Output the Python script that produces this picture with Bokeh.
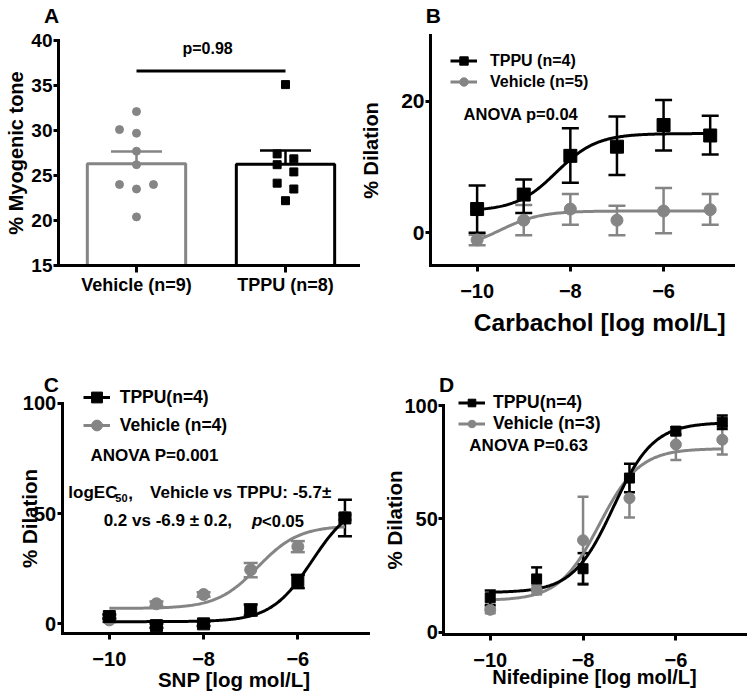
import numpy as np
from bokeh.plotting import figure
from bokeh.models import (Range1d, FixedTicker, Whisker, TeeHead, ColumnDataSource,
                          Label, Legend, LegendItem)
from bokeh.layouts import row, column
from bokeh.embed import file_html
from bokeh.resources import INLINE

FONT = "Liberation Sans"
BLACK = "#000000"
GRAY = "#858585"

# ---------------- Panel A data ----------------
a_groups = ["Vehicle (n=9)", "TPPU (n=8)"]
a_vehicle = [32.1, 30.1, 29.7, 27.7, 26.2, 24.0, 23.5, 24.0, 20.4]
a_tppu = [35.1, 27.4, 26.85, 26.2, 25.4, 24.15, 23.5, 22.2]
a_mean = [26.3, 26.25]
a_upper = [27.67, 27.78]
a_lower = [25.19, 24.92]
a_pvalue = "p=0.98"
a_sig_y = 36.6
a_yticks = [15, 20, 25, 30, 35, 40]
# scatter layout (column of each dot: -1 left, 0 centre, 1 right)
a_vehicle_col = [0, -1, 0, 0, 0, -1, 0, 1, 0]
a_tppu_col = [0, -1, 1, -1, 1, -1, 1, 0]

# ---------------- Panel B data (Carbachol) ----------------
dose = [-10, -9, -8, -7, -6, -5]
b_tppu = [3.6, 5.8, 11.7, 13.1, 16.4, 14.8]
b_tppu_up = [7.2, 8.1, 15.9, 17.7, 20.2, 17.8]
b_tppu_lo = [0.0, 3.0, 7.6, 8.8, 12.5, 11.9]
b_veh = [-1.1, 1.9, 3.6, 1.9, 3.3, 3.5]
b_veh_up = [-0.3, 4.2, 5.9, 4.1, 6.8, 5.9]
b_veh_lo = [-1.9, -0.4, 1.2, -0.4, -0.1, 1.2]
# 4-parameter fit: bottom, top, logEC50, hill
b_tppu_fit = [3.3, 15.1, -8.3, 1.0]
b_veh_fit = [-2.5, 3.3, -9.5, 1.0]

# ---------------- Panel C data (SNP) ----------------
c_tppu = [3.3, -0.8, 0.0, 6.3, 19.6, 48.0]
c_tppu_up = [4.3, 0.2, 1.0, 8.8, 22.2, 56.2]
c_tppu_lo = [2.3, -1.8, -1.0, 3.8, 16.2, 39.7]
c_veh = [1.8, 9.1, 13.3, 24.5, 35.0, 48.3]
c_veh_up = [2.8, 10.1, 14.3, 27.6, 37.5, 49.5]
c_veh_lo = [0.8, 8.1, 12.3, 21.1, 32.5, 47.1]
c_tppu_fit = [1.0, 56.0, -5.7, 1.0]
c_veh_fit = [7.0, 44.5, -6.85, 1.0]

# ---------------- Panel D data (Nifedipine) ----------------
d_tppu = [15.2, 23.5, 28.0, 68.0, 88.7, 92.6]
d_tppu_up = [18.4, 28.6, 34.9, 74.3, 90.4, 95.6]
d_tppu_lo = [12.0, 18.4, 21.1, 61.7, 87.0, 89.6]
d_veh = [9.9, 18.7, 40.6, 59.1, 82.8, 84.9]
d_veh_up = [11.4, 20.7, 59.7, 67.6, 87.5, 90.7]
d_veh_lo = [8.4, 16.7, 21.5, 50.6, 76.0, 78.4]
d_tppu_fit = [17.5, 92.5, -7.35, 1.0]
d_veh_fit = [14.0, 81.0, -7.65, 1.0]

dose_ticks = [-10, -8, -6]


def fit_curve(params):
    bottom, top, ec, hill = params
    xs = np.linspace(min(dose), max(dose), 200)
    ys = bottom + (top - bottom) / (1 + 10 ** ((ec - xs) * hill))
    return xs, ys


def make_fig(W, H, box, xr, yr, yticks, xticks):
    """Frame covers the whole figure; axes are pinned at the data box edges."""
    L, R, T, B = box
    sx = (xr[1] - xr[0]) / (R - L)
    sy = (yr[1] - yr[0]) / (B - T)
    p = figure(width=W, height=H,
               x_range=Range1d(xr[0] - L * sx, xr[1] + (W - R) * sx),
               y_range=Range1d(yr[0] - (H - B) * sy, yr[1] + T * sy),
               min_border=0, min_border_left=0, min_border_right=0,
               min_border_top=0, min_border_bottom=0,
               output_backend="svg", toolbar_location=None)
    p.title.visible = False
    p.outline_line_color = None
    p.xgrid.visible = False
    p.ygrid.visible = False
    p.background_fill_color = "white"
    p.border_fill_color = "white"
    p.xaxis.fixed_location = yr[0]
    p.yaxis.fixed_location = xr[0]
    p.xaxis.bounds = tuple(xr)
    p.yaxis.bounds = tuple(yr)
    p.xaxis.ticker = FixedTicker(ticks=xticks)
    p.yaxis.ticker = FixedTicker(ticks=yticks)
    for ax in p.axis:
        ax.axis_line_width = 3
        ax.axis_line_color = BLACK
        ax.axis_line_cap = "square"
        ax.major_tick_line_width = 3
        ax.major_tick_line_color = BLACK
        ax.major_tick_out = 6
        ax.major_tick_in = 0
        ax.minor_tick_line_color = None
        ax.major_label_text_font = FONT
        ax.major_label_text_font_style = "bold"
        ax.major_label_text_color = BLACK
        ax.axis_label_text_font = FONT
        ax.axis_label_text_font_style = "bold"
        ax.axis_label_text_color = BLACK
    p.yaxis.major_tick_out = 5
    p.yaxis.major_label_standoff = 1
    return p


def add_label(p, x, y, text, size, align="left", style="bold", x_offset=0, y_offset=0):
    p.add_layout(Label(x=x, y=y, text=text, text_font=FONT, text_font_style=style,
                       text_font_size=size, text_color=BLACK, text_align=align,
                       text_baseline="middle", x_offset=x_offset, y_offset=y_offset))


def add_whisker(p, xs, up, lo, color, cap, lw=2.5):
    src = ColumnDataSource(dict(x=xs, up=up, lo=lo))
    w = Whisker(source=src, base="x", upper="up", lower="lo", dimension="height",
                line_color=color, line_width=lw,
                upper_head=TeeHead(size=cap, line_color=color, line_width=lw),
                lower_head=TeeHead(size=cap, line_color=color, line_width=lw))
    p.add_layout(w)


def add_series(p, tppu, tup, tlo, veh, vup, vlo, tfit, vfit, sq, ci, cap):
    add_whisker(p, dose, vup, vlo, GRAY, cap)
    add_whisker(p, dose, tup, tlo, BLACK, cap)
    vx, vy = fit_curve(vfit)
    tx, ty = fit_curve(tfit)
    vl = p.line(vx, vy, line_color=GRAY, line_width=3)
    tl = p.line(tx, ty, line_color=BLACK, line_width=3)
    vs = p.scatter(dose, veh, marker="circle", size=ci, fill_color=GRAY, line_color=GRAY)
    ts = p.scatter(dose, tppu, marker="square", size=sq, fill_color=BLACK, line_color=BLACK)
    return (tl, ts), (vl, vs)


def add_legend(p, items, loc, gw, rh, standoff, size):
    leg = Legend(items=[LegendItem(label=lab, renderers=list(r)) for lab, r in items],
                 location=loc, orientation="vertical", padding=0, spacing=0, margin=0,
                 border_line_color=None, background_fill_alpha=0,
                 glyph_width=gw, glyph_height=rh, label_height=rh, label_standoff=standoff,
                 label_text_font=FONT, label_text_font_style="bold",
                 label_text_font_size=size, label_text_color=BLACK)
    p.add_layout(leg)


# ================= Panel A =================
pa = make_fig(360, 338, (58, 358, 40, 265), (-0.5235, 1.49), (15, 40),
              a_yticks, list(range(len(a_groups))))
pa.xaxis.major_label_overrides = {i: g for i, g in enumerate(a_groups)}
pa.xaxis.major_label_text_font_size = "18px"
pa.xaxis.major_label_standoff = 2
pa.xaxis.major_tick_out = 7
pa.yaxis.major_label_text_font_size = "19px"
pa.yaxis.axis_label = "% Myogenic tone"
pa.yaxis.axis_label_text_font_size = "20px"
pa.yaxis.axis_label_standoff = 1

pa.vbar(x=[0, 1], top=a_mean, bottom=15, width=0.66, fill_color="white",
        line_color=[GRAY, BLACK], line_width=3)
add_whisker(pa, [0], [a_upper[0]], [a_lower[0]], GRAY, 51, 2.5)
add_whisker(pa, [1], [a_upper[1]], [a_lower[1]], BLACK, 51, 2.5)
pa.scatter([0 + c * 0.114 for c in a_vehicle_col], a_vehicle, marker="circle", size=8,
           fill_color=GRAY, line_color=GRAY)
pa.scatter([1 + c * 0.056 for c in a_tppu_col], a_tppu, marker="square", size=8,
           fill_color=BLACK, line_color=BLACK)
pa.line([0, 1], [a_sig_y, a_sig_y], line_color=BLACK, line_width=3)
add_label(pa, 0.477, 39.1, a_pvalue, "16px", align="center")
add_label(pa, -0.57, 42.83, "A", "21px", align="center")

# ================= Panel B =================
pb = make_fig(390, 338, (70, 373, 35.2, 265), (-11, -4.5), (-5, 30), [0, 20], dose_ticks)
pb.xaxis.major_label_text_font_size = "20px"
pb.yaxis.major_label_text_font_size = "21px"
pb.xaxis.major_label_standoff = 12
pb.yaxis.axis_label = "% Dilation"
pb.yaxis.axis_label_text_font_size = "20px"
pb.yaxis.axis_label_standoff = 16
t_r, v_r = add_series(pb, b_tppu, b_tppu_up, b_tppu_lo, b_veh, b_veh_up, b_veh_lo,
                      b_tppu_fit, b_veh_fit, 13, 12, 17)
add_legend(pb, [("TPPU (n=4)", t_r), ("Vehicle (n=5)", v_r)], (90, 246), 27, 21, 13, "16px")
add_label(pb, -10.29, 18.15, "ANOVA p=0.04", "16.5px")
add_label(pb, -10.94, 33.08, "B", "21px", align="center")
add_label(pb, -7.37, -13.7, "Carbachol [log mol/L]", "24.5px", align="center")

# ================= Panel C =================
pc = make_fig(375, 357, (61.7, 368, 64.7, 295.3), (-11, -4.5), (-4.5, 100), [0, 50, 100], dose_ticks)
pc.xaxis.major_label_text_font_size = "20px"
pc.yaxis.major_label_text_font_size = "20px"
pc.xaxis.major_label_standoff = 12
pc.yaxis.axis_label = "% Dilation"
pc.yaxis.axis_label_text_font_size = "20.5px"
pc.yaxis.axis_label_standoff = -21
t_r, v_r = add_series(pc, c_tppu, c_tppu_up, c_tppu_lo, c_veh, c_veh_up, c_veh_lo,
                      c_tppu_fit, c_veh_fit, 12, 12, 14)
add_legend(pc, [("TPPU(n=4)", t_r), ("Vehicle (n=4)", v_r)], (82.7, 256), 27, 28, 10, "17.5px")
add_label(pc, -10.4, 76.2, "ANOVA P=0.001", "17px")
add_label(pc, -10.87, 59.5, "logEC", "17px")
add_label(pc, -10.87, 59.5, "50", "11px", x_offset=47, y_offset=-5)
add_label(pc, -10.87, 59.5, ",", "17px", x_offset=60)
add_label(pc, -10.87, 59.5, "Vehicle vs TPPU: -5.7\u00b1", "17px", x_offset=81.7)
add_label(pc, -10.12, 46.7, "0.2 vs -6.9 \u00b1 0.2,", "17px")
add_label(pc, -10.12, 46.7, "p", "17px", style="bold italic", x_offset=148.4)
add_label(pc, -10.12, 46.7, "<0.05", "16.5px", x_offset=158.4)
add_label(pc, -11.23, 108.5, "C", "21px", align="center")
add_label(pc, -7.35, -25.3, "SNP [log mol/L]", "20.5px", align="center")

# ================= Panel D =================
pd_ = make_fig(375, 357, (68.3, 370, 67, 296), (-11, -4.5), (-1, 100), [0, 50, 100], dose_ticks)
pd_.xaxis.major_label_text_font_size = "20px"
pd_.yaxis.major_label_text_font_size = "20px"
pd_.xaxis.major_label_standoff = 12
pd_.xaxis.axis_label = "Nifedipine [log mol/L]"
pd_.xaxis.axis_label_text_font_size = "20px"
pd_.xaxis.axis_label_standoff = -4
pd_.yaxis.axis_label = "% Dilation"
pd_.yaxis.axis_label_text_font_size = "20.5px"
pd_.yaxis.axis_label_standoff = -5
t_r, v_r = add_series(pd_, d_tppu, d_tppu_up, d_tppu_lo, d_veh, d_veh_up, d_veh_lo,
                      d_tppu_fit, d_veh_fit, 10, 11, 11)
add_legend(pd_, [("TPPU(n=4)", t_r), ("Vehicle (n=3)", v_r)], (83, 261), 27, 19, 8, "17.5px")
add_label(pd_, -10.45, 82.4, "ANOVA P=0.63", "17px")
add_label(pd_, -10.94, 109.3, "D", "21px", align="center")

layout = column(row(pa, pb), row(pc, pd_))
open("out.html", "w").write(file_html(layout, INLINE))
